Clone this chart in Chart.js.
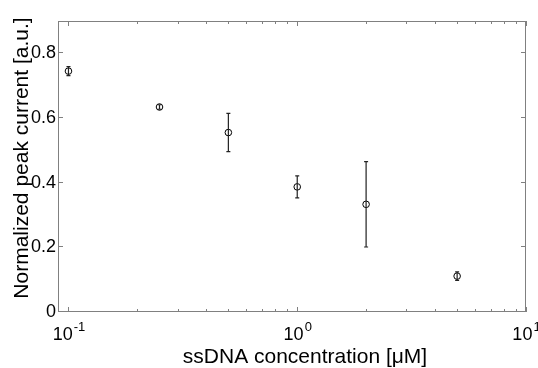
<!DOCTYPE html>
<html>
<head>
<meta charset="utf-8">
<script src="https://cdn.jsdelivr.net/npm/chart.js@4/dist/chart.umd.min.js"></script>
<style>
    html, body { margin: 0; padding: 0; background: #fff; }
    canvas { display: block; }
</style>
</head>
<body>
<canvas id="plot" width="538" height="368"></canvas>
<script>
// values
const concentration = [0.1, 0.25, 0.5, 1, 2, 5];
const peakCurrent = [0.745, 0.634, 0.555, 0.387, 0.333, 0.111];
const peakError = [0.014, 0.007, 0.059, 0.034, 0.132, 0.013];
const yTickValues = [0, 0.2, 0.4, 0.6, 0.8];
const xDecades = [-1, 0, 1];

const FONT = "'Liberation Sans', Arial, Helvetica, sans-serif";

const errorBars = {
    id: "errorBars",
    afterDatasetsDraw(chart) {
        const { ctx, scales: { x, y } } = chart;
        ctx.save();
        ctx.strokeStyle = "#222";
        ctx.lineWidth = 1.2;
        concentration.forEach((c, i) => {
            const px = x.getPixelForValue(c);
            const top = y.getPixelForValue(peakCurrent[i] + peakError[i]);
            const bot = y.getPixelForValue(peakCurrent[i] - peakError[i]);
            ctx.beginPath();
            ctx.moveTo(px, top); ctx.lineTo(px, bot);
            ctx.moveTo(px - 2, top); ctx.lineTo(px + 2, top);
            ctx.moveTo(px - 2, bot); ctx.lineTo(px + 2, bot);
            ctx.stroke();
        });
        ctx.restore();
    }
};

const frame = {
    id: "frame",
    afterDraw(chart) {
        const { ctx, chartArea: a, scales: { x, y } } = chart;
        ctx.save();
        ctx.strokeStyle = "#808080";
        ctx.lineWidth = 1;
        ctx.strokeRect(a.left + 0.5, a.top + 0.5, a.right - a.left - 1, a.bottom - a.top - 1);

        ctx.beginPath();
        yTickValues.forEach(v => {
            const py = Math.round(y.getPixelForValue(v)) - 0.5;
            ctx.moveTo(a.left, py); ctx.lineTo(a.left + 5, py);
            ctx.moveTo(a.right, py); ctx.lineTo(a.right - 5, py);
        });
        xDecades.forEach(d => {
            for (let m = 1; m < 10; m++) {
                const v = m * Math.pow(10, d);
                if (v > x.max || v < x.min) continue;
                const len = m === 1 ? 5 : 3;
                const px = Math.round(x.getPixelForValue(v)) + 0.5;
                ctx.moveTo(px, a.bottom); ctx.lineTo(px, a.bottom - len);
                ctx.moveTo(px, a.top); ctx.lineTo(px, a.top + len);
            }
        });
        ctx.stroke();

        // x tick labels 10^n
        ctx.fillStyle = "#000";
        ctx.textBaseline = "alphabetic";
        ctx.textAlign = "left";
        xDecades.forEach(d => {
            const px = x.getPixelForValue(Math.pow(10, d));
            ctx.font = "18px " + FONT;
            const wBase = ctx.measureText("10").width;
            ctx.font = "13px " + FONT;
            const exp = d < 0 ? "-" + Math.abs(d) : String(d);
            const wExp = ctx.measureText(exp).width;
            const start = px - (wBase + wExp) / 2;
            ctx.font = "18px " + FONT;
            ctx.fillText("10", start, 340);
            ctx.font = "13px " + FONT;
            ctx.fillText(exp, start + wBase + 1, 331);
        });

        // axis titles
        ctx.font = "21px " + FONT;
        ctx.textAlign = "center";
        ctx.fillText("ssDNA concentration [\u03bcM]", 305, 363);
        ctx.translate(28, 158);
        ctx.rotate(-Math.PI / 2);
        ctx.fillText("Normalized peak current [a.u.]", 0, 0);
        ctx.restore();
    }
};

new Chart(document.getElementById("plot"), {
    type: "scatter",
    data: {
        datasets: [{
            data: concentration.map((c, i) => ({ x: c, y: peakCurrent[i] })),
            showLine: false,
            pointStyle: "circle",
            pointRadius: 3.3,
            pointBorderWidth: 1,
            pointBorderColor: "#000",
            pointBackgroundColor: "rgba(0,0,0,0)"
        }]
    },
    options: {
        responsive: false,
        animation: false,
        devicePixelRatio: 1,
        layout: { padding: { left: 0, top: 21, right: 12, bottom: 0 } },
        plugins: { legend: { display: false }, tooltip: { enabled: false } },
        scales: {
            x: {
                type: "logarithmic",
                min: 0.09,
                max: 10,
                grid: { display: false, drawTicks: false },
                border: { display: false },
                ticks: { display: false },
                afterFit: s => { s.height = 56; }
            },
            y: {
                min: 0,
                max: 0.9,
                grid: { display: false, drawTicks: false },
                border: { display: false },
                ticks: {
                    stepSize: 0.2,
                    includeBounds: false,
                    padding: 2,
                    color: "#000",
                    font: { family: FONT, size: 18 },
                    callback: v => (v > 0.85 ? "" : String(+v.toFixed(1)))
                },
                afterFit: s => { s.width = 58; }
            }
        }
    },
    plugins: [errorBars, frame]
});
</script>
</body>
</html>
